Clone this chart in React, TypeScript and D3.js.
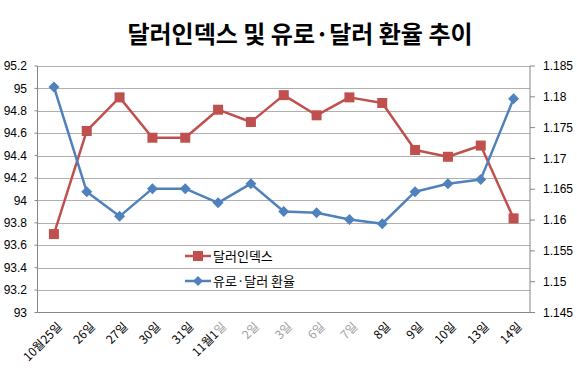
import React from "react";
import * as d3 from "d3";

const categories = ["10월25일", "26일", "27일", "30일", "31일", "11월1일", "2일", "3일", "6일", "7일", "8일", "9일", "10일", "13일", "14일"];
const dollarIndex = [93.7, 94.62, 94.92, 94.56, 94.56, 94.81, 94.7, 94.94, 94.76, 94.92, 94.87, 94.45, 94.39, 94.49, 93.84];
const euroDollar = [1.1816, 1.1646, 1.1606, 1.1651, 1.1651, 1.1628, 1.1659, 1.1614, 1.1612, 1.1601, 1.1594, 1.1646, 1.1659, 1.1666, 1.1797];
const leftTicks = [93, 93.2, 93.4, 93.6, 93.8, 94, 94.2, 94.4, 94.6, 94.8, 95, 95.2];
const rightTicks = [1.145, 1.15, 1.155, 1.16, 1.165, 1.17, 1.175, 1.18, 1.185];
const grayLabels = ["2일", "3일", "6일", "7일"];

const W = 577, H = 378;
const L = 37.5, R = 530, T = 66, B = 312.5;
const RED = "#c0504d", BLUE = "#4f81bd";
const FONT = "'Liberation Sans', 'Noto Sans CJK KR', sans-serif";

export default function App() {
  const x = d3.scaleBand<string>().domain(categories).range([L, R]);
  const cx = (c: string) => (x(c) as number) + x.bandwidth() / 2;
  const yL = d3.scaleLinear().domain([93, 95.2]).range([B, T]);
  const yR = d3.scaleLinear().domain([1.145, 1.185]).range([B, T]);
  const lineL = d3.line<number>().x((_, i) => cx(categories[i])).y((d) => yL(d));
  const lineR = d3.line<number>().x((_, i) => cx(categories[i])).y((d) => yR(d));
  const diamond = (px: number, py: number, r: number) => `M${px},${py - r}L${px + r},${py}L${px},${py + r}L${px - r},${py}Z`;

  return (
    <svg width={W} height={H} style={{ position: "absolute", left: 0, top: 0, background: "#fff" }} fontFamily={FONT}>
      <rect x={0} y={0} width={W} height={H} fill="#fff" />
      <text x={300} y={43} textAnchor="middle" fontSize={24} fontWeight="bold" fontFamily="'Noto Sans CJK KR', sans-serif" fill="#000">
        달러인덱스 및 유로·달러 환율 추이
      </text>
      {leftTicks.slice(1).map((t) => (
        <line key={t} x1={L} x2={R} y1={Math.round(yL(t)) + 0.5} y2={Math.round(yL(t)) + 0.5} stroke="#b0b0b0" strokeWidth={1} />
      ))}
      <line x1={L} x2={L} y1={T} y2={B} stroke="#868686" />
      <line x1={R} x2={R} y1={T} y2={B} stroke="#868686" />
      <line x1={L} x2={R} y1={B} y2={B} stroke="#868686" />
      {leftTicks.map((t) => (
        <g key={t}>
          <line x1={L - 3} x2={L} y1={yL(t)} y2={yL(t)} stroke="#868686" />
          <text x={27} y={yL(t)} dy="0.35em" textAnchor="end" fontSize={12} fill="#000">{d3.format("")(t)}</text>
        </g>
      ))}
      {rightTicks.map((t) => (
        <g key={t}>
          <line x1={R} x2={R + 5} y1={yR(t)} y2={yR(t)} stroke="#868686" />
          <text x={543} y={yR(t)} dy="0.35em" textAnchor="start" fontSize={12} fill="#000">{d3.format(".3~f")(t)}</text>
        </g>
      ))}
      {categories.map((c) => (
        <text key={c} transform={`translate(${cx(c) + 6},${B + 12}) rotate(-45)`} textAnchor="end" dy="0.35em" fontSize={12}
          fontFamily="'Noto Sans CJK KR', sans-serif" fill={grayLabels.includes(c) ? "#a0a0a0" : "#000"}>
          {c === "11월1일" ? (<><tspan>11월1</tspan><tspan fill="#a0a0a0">일</tspan></>) : c}
        </text>
      ))}
      <path d={lineL(dollarIndex) as string} fill="none" stroke={RED} strokeWidth={2.5} strokeLinejoin="round" />
      {dollarIndex.map((v, i) => (
        <rect key={i} x={cx(categories[i]) - 5} y={yL(v) - 5} width={10} height={10} fill={RED} />
      ))}
      <path d={lineR(euroDollar) as string} fill="none" stroke={BLUE} strokeWidth={2.5} strokeLinejoin="round" />
      {euroDollar.map((v, i) => (
        <path key={i} d={diamond(cx(categories[i]), yR(v), 5.5)} fill={BLUE} />
      ))}
      <g>
        <line x1={185} x2={211} y1={256} y2={256} stroke={RED} strokeWidth={2.5} />
        <rect x={193} y={251} width={10} height={10} fill={RED} />
        <text x={213} y={256} dy="0.35em" fontSize={13} fontFamily="'Noto Sans CJK KR', sans-serif" fill="#000">달러인덱스</text>
        <line x1={185} x2={211} y1={281} y2={281} stroke={BLUE} strokeWidth={2.5} />
        <path d={diamond(198, 281, 5)} fill={BLUE} />
        <text x={213} y={281} dy="0.35em" fontSize={13} fontFamily="'Noto Sans CJK KR', sans-serif" fill="#000">유로·달러 환율</text>
      </g>
    </svg>
  );
}
